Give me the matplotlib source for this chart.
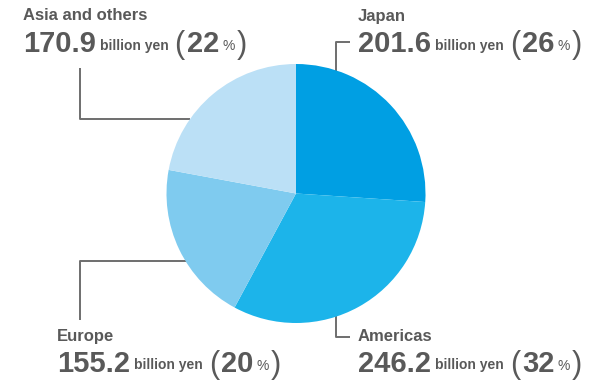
import matplotlib.pyplot as plt

# sales by region, billion yen
regions = ['Japan', 'Americas', 'Europe', 'Asia and others']
sales = [201.6, 246.2, 155.2, 170.9]
shares = [26, 32, 20, 22]
colors = ['#009fe3', '#1cb4ea', '#7fcbef', '#bbe0f6']

GREY = '#595959'
LINE = '#6e6e6e'
plt.rcParams['font.family'] = ['Liberation Sans', 'DejaVu Sans']

fig = plt.figure(figsize=(6, 3.8), dpi=100)

# overlay in pixel coords (y down) for labels and leader lines
ov = fig.add_axes([0, 0, 1, 1], zorder=1)
ov.set_xlim(0, 600)
ov.set_ylim(380, 0)
ov.axis('off')

# pie axes: centre (296, 193.5), radius 129.5 px
cx, cy, r = 296, 193.5, 129.5
pa = fig.add_axes([(cx - r) / 600, (380 - cy - r) / 380, 2 * r / 600, 2 * r / 380], zorder=2)
pa.pie(sales, colors=colors, startangle=90, counterclock=False,
       wedgeprops=dict(linewidth=0), radius=1)
pa.set_xlim(-1, 1)
pa.set_ylim(-1, 1)
pa.patch.set_alpha(0)

# leader lines (pixel coords)
leaders = {
    'Japan': ([350, 336, 336], [42, 42, 80]),
    'Americas': ([336, 336, 350], [305, 337, 337]),
    'Europe': ([190, 80, 80], [260.5, 260.5, 320]),
    'Asia and others': ([80, 80, 190], [68, 119, 119]),
}
for k, (xs, ys) in leaders.items():
    ov.plot(xs, ys, color=LINE, lw=1.4, solid_capstyle='butt', zorder=1)

# label anchors: (x, title baseline, value baseline)
anchors = {
    'Japan': (358, 21.5, 52),
    'Americas': (358, 341, 371.5),
    'Europe': (57, 341, 371.5),
    'Asia and others': (23, 20.5, 52),
}

fig.canvas.draw()
rend = fig.canvas.get_renderer()


def row(x, y, parts):
    for s, size, weight, dy, gap in parts:
        t = ov.text(x, y + dy, s, fontsize=size, fontweight=weight, color=GREY,
                    ha='left', va='baseline')
        bb = t.get_window_extent(rend)
        x += bb.width + gap


for name, val, pct in zip(regions, sales, shares):
    x, y1, y2 = anchors[name]
    ov.text(x, y1, name, fontsize=12, fontweight='bold', color=GREY,
            ha='left', va='baseline')
    row(x, y2, [
        ('%.1f' % val, 21, 'bold', 0, 4),
        ('billion yen', 10, 'bold', -2, 6),
        ('(', 22, 'normal', 1, 2),
        ('%d' % pct, 21, 'bold', 0, 3),
        ('%', 10, 'normal', -2, 2),
        (')', 22, 'normal', 1, 0),
    ])

fig.savefig('out.png', dpi=100, facecolor='white')
